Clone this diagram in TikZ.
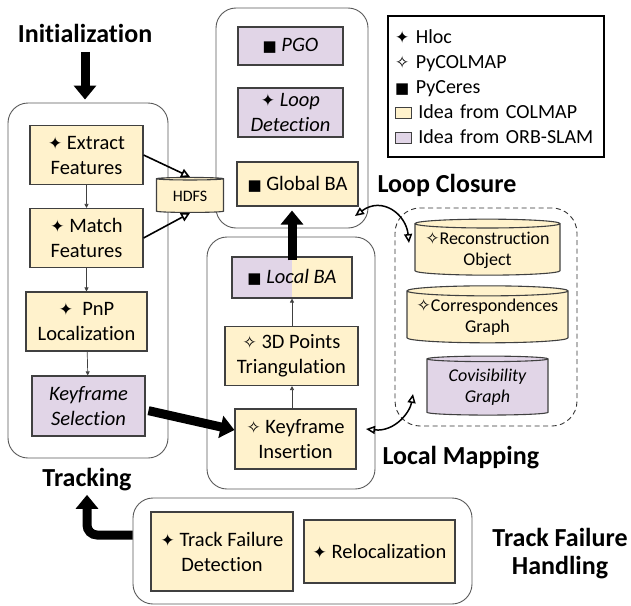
\documentclass[tikz,border=0pt]{standalone}
\usepackage{fontspec}
\setmainfont{Carlito}[Ligatures={NoCommon,NoContextual,NoDiscretionary}]
\newfontfamily\symfont{DejaVu Sans}
\usetikzlibrary{shapes.geometric,arrows.meta}

\definecolor{colmapfill}{HTML}{FFF2CC}
\definecolor{orbfill}{HTML}{E1D5E7}
\definecolor{boxline}{HTML}{404040}
\definecolor{groupline}{HTML}{595959}

% library marks
\newcommand{\hlocmark}{{\symfont\fontsize{17}{17}\selectfont ✦}}
\newcommand{\colmapmark}{{\symfont\fontsize{17}{17}\selectfont ✧}}
\newcommand{\ceresmark}{{\symfont\fontsize{15}{15}\selectfont ■}}
\newcommand{\swatch}[1]{{\setlength{\fboxsep}{0pt}\setlength{\fboxrule}{0.8pt}\fcolorbox{boxline}{#1}{\rule{0pt}{10pt}\hspace{15pt}}}}

\tikzset{
  stage/.style={draw=groupline, line width=0.9pt, rounded corners=20pt},
  module/.style={draw=boxline, line width=1.1pt, align=center, inner sep=2pt, font=\fontsize{20.5}{25}\selectfont},
  colmap/.style={module, fill=colmapfill},
  orb/.style={module, fill=orbfill, font=\fontsize{20.5}{25}\selectfont\itshape},
  store/.style={cylinder, shape border rotate=90, aspect=0.07, draw=boxline, line width=1.1pt, align=center, inner sep=1pt, font=\fontsize{18}{21}\selectfont},
  title/.style={font=\fontsize{26}{28}\selectfont\bfseries},
  flow/.style={-{Triangle[length=4pt,width=4pt]}, line width=0.7pt, draw=boxline},
  bigarrow/.style={-{Triangle[length=14pt,width=22pt]}, line width=9pt},
  feed/.style={-{Triangle[open,length=9pt,width=9pt]}, line width=1.6pt},
  link/.style={{Triangle[open,length=9pt,width=8pt]}-{Triangle[open,length=9pt,width=8pt]}, line width=1.5pt},
}

\begin{document}
\begin{tikzpicture}[x=1pt, y=-1pt]
  \useasboundingbox (0,0) rectangle (631,605);

  % group frames
  \node[stage, minimum width=160pt, minimum height=355pt] (trackbox) at (88,280.5) {};
  \node[stage, minimum width=152pt, minimum height=220pt] (loopbox) at (292,118) {};
  \node[stage, minimum width=168pt, minimum height=252pt] (mapbox) at (291,363) {};
  \node[stage, minimum width=339pt, minimum height=106pt] (failbox) at (302.5,551) {};
  \node[stage, draw=black!80, dash pattern=on 5pt off 3.5pt, rounded corners=25pt, minimum width=182pt, minimum height=218pt] (storebox) at (486,317) {};

  % tracking
  \node[colmap, minimum width=113pt, minimum height=59pt] (extract) at (86.5,155) {\hlocmark\ Extract\\Features};
  \node[colmap, minimum width=113pt, minimum height=59pt] (match) at (86.5,238) {\hlocmark\ Match\\Features};
  \node[colmap, minimum width=121pt, minimum height=59pt] (pnp) at (86.5,321.5) {\hlocmark\ \ PnP\\Localization};
  \node[orb, minimum width=113pt, minimum height=60pt] (kfsel) at (88.5,406) {Keyframe\\Selection};
  \node[store, fill=colmapfill, minimum width=67pt, minimum height=35pt, font=\fontsize{16}{18}\selectfont] (hdfs) at (190,196) {HDFS};

  % loop closure
  \node[orb, minimum width=105pt, minimum height=38pt] (pgo) at (290.5,46) {\ceresmark\ PGO};
  \node[orb, minimum width=105pt, minimum height=49pt] (loopdet) at (290.5,112.5) {\hlocmark\ Loop\\Detection};
  \node[colmap, minimum width=121pt, minimum height=44pt] (globalba) at (297.5,184) {\ceresmark\ Global BA};

  % local mapping
  \node[colmap, minimum width=120pt, minimum height=41pt,
    path picture={\fill[orbfill] (path picture bounding box.south west) rectangle (path picture bounding box.north);}]
    (localba) at (292,277.5) {\ceresmark\ \textit{Local BA}};
  \node[colmap, minimum width=133pt, minimum height=59pt] (tri) at (291.5,356) {\colmapmark\ 3D Points\\Triangulation};
  \node[colmap, minimum width=121pt, minimum height=60pt] (kfins) at (295.5,439) {\colmapmark\ Keyframe\\Insertion};

  % shared map data
  \node[store, fill=colmapfill, minimum width=145pt, minimum height=56pt] (recon) at (487.5,250) {\colmapmark Reconstruction\\Object};
  \node[store, fill=colmapfill, minimum width=161pt, minimum height=57pt] (corr) at (487.5,317.5) {\colmapmark Correspondences\\Graph};
  \node[store, fill=orbfill, minimum width=121pt, minimum height=59pt, font=\fontsize{18}{21}\selectfont\itshape] (covis) at (487.5,387.5) {Covisibility\\Graph};

  % track failure handling
  \node[colmap, minimum width=142pt, minimum height=79pt] (tfdet) at (222,551.5) {\hlocmark\ Track Failure\\Detection};
  \node[colmap, minimum width=151pt, minimum height=63pt] (reloc) at (379.5,551.5) {\hlocmark\ Relocalization};

  % legend
  \node[draw, line width=2pt, minimum width=216pt, minimum height=141pt, text width=202pt, align=left,
    font=\fontsize{20}{25}\selectfont] (legend) at (496,86.5)
    {\hlocmark\ Hloc\\\colmapmark\ PyCOLMAP\\\ceresmark\ PyCeres\\\swatch{colmapfill} Idea from COLMAP\\\swatch{orbfill} Idea from ORB-SLAM};

  % titles
  \node[title] (inittitle) at (85,33) {Initialization};
  \node[title] (tracktitle) at (87,480) {Tracking};
  \node[title, anchor=west] (looptitle) at (374,185) {Loop Closure};
  \node[title, anchor=west] (maptitle) at (379,458) {Local Mapping};
  \node[title, align=center] (failtitle) at (560,554) {Track Failure\\Handling};

  % connectors
  \draw[bigarrow, shorten <=6pt, shorten >=3pt] (inittitle.south) -- (inittitle.south |- trackbox.north);
  \draw[flow] (extract) -- (match);
  \draw[flow] (match) -- (pnp);
  \draw[flow] (pnp) -- (kfsel);
  \draw[feed] (extract.east) -- (hdfs.north);
  \draw[feed] (match.east) -- (hdfs.south);
  \draw[bigarrow, shorten <=3pt] ([yshift=-4pt]kfsel.east) -- ([yshift=9pt]kfins.west);
  \draw[flow] (kfins.north -| localba.south) -- (tri.south -| localba.south);
  \draw[flow] (tri.north -| localba.south) -- (localba.south);
  \draw[bigarrow, shorten <=-4pt, shorten >=4pt] (localba.north) -- (localba.north |- globalba.south);
  \draw[bigarrow, rounded corners=10pt] ([yshift=16pt]failbox.west) -| (tracktitle.south);

  \coordinate (loopport) at (355,216);
  \coordinate (recontop) at (409,243);
  \coordinate (mapport) at (366,429);
  \coordinate (covisside) at (413,394);
  \draw[link] (loopport) .. controls (382,196) and (406,214) .. (recontop);
  \draw[link] (mapport) .. controls (395,432) and (410,412) .. (covisside);
\end{tikzpicture}
\end{document}
